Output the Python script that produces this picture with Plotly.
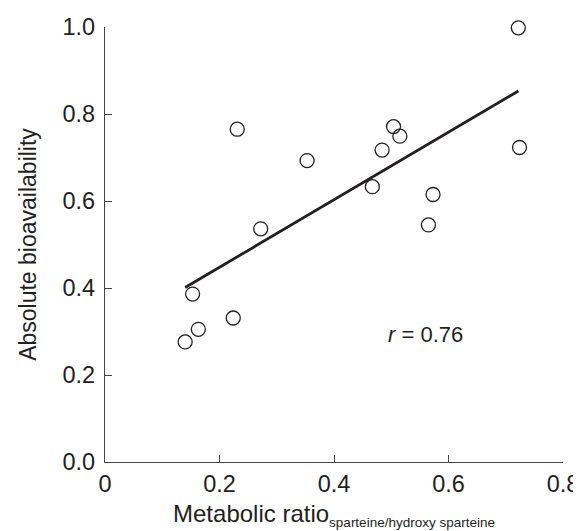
import plotly.graph_objects as go

# metabolic ratio vs absolute bioavailability
ratio = [0.722, 0.231, 0.353, 0.504, 0.515, 0.484, 0.724, 0.467, 0.573,
         0.565, 0.272, 0.153, 0.224, 0.163, 0.140]
bioavail = [0.998, 0.765, 0.693, 0.771, 0.749, 0.717, 0.723, 0.633, 0.615,
            0.545, 0.536, 0.386, 0.331, 0.305, 0.276]

fit_x = [0.140, 0.722]
fit_y = [0.401, 0.853]

x_ticks = [0, 0.2, 0.4, 0.6, 0.8]
x_labels = ["0", "0.2", "0.4", "0.6", "0.8"]
y_ticks = [0, 0.2, 0.4, 0.6, 0.8, 1.0]
y_labels = ["0.0", "0.2", "0.4", "0.6", "0.8", "1.0"]

ink = "#231f20"
font = "Liberation Sans, Arial, sans-serif"

fig = go.Figure()
fig.add_trace(go.Scatter(
    x=fit_x, y=fit_y, mode="lines",
    line=dict(color=ink, width=2.8),
    cliponaxis=False, showlegend=False))
fig.add_trace(go.Scatter(
    x=ratio, y=bioavail, mode="markers",
    marker=dict(symbol="circle-open", size=14, color=ink, line=dict(width=1.3)),
    cliponaxis=False, showlegend=False))

fig.add_annotation(
    x=0.559, y=0.292, xref="x", yref="y",
    text="<i>r</i> = 0.76", showarrow=False,
    font=dict(size=22, color=ink, family=font))

axis_common = dict(
    showgrid=False, zeroline=False, showline=True, automargin=False,
    linecolor="#444444", linewidth=1.3,
    ticks="inside", ticklen=7, tickwidth=1.2, tickcolor="#444444",
    tickfont=dict(size=23.5, color=ink, family=font),
)

fig.update_xaxes(
    range=[0, 0.8], tickvals=x_ticks, ticktext=x_labels,
    ticklabelstandoff=1,
    title=dict(text="Metabolic ratio<sub><span style='font-size:13.5px'>"
                    "sparteine/hydroxy sparteine</span></sub>",
               font=dict(size=24, color=ink, family=font), standoff=8),
    **axis_common)
fig.update_yaxes(
    range=[0, 1.0], tickvals=y_ticks, ticktext=y_labels,
    ticklabelstandoff=4,
    title=dict(text="Absolute bioavailability",
               font=dict(size=23, color=ink, family=font), standoff=19),
    **axis_common)

# page body adds an 8px offset, so the figure is sized to fit the window
fig.update_layout(
    width=573, height=523,
    margin=dict(l=97, r=18, t=19, b=69),
    plot_bgcolor="white", paper_bgcolor="white",
    font=dict(family=font, color=ink),
)

fig.write_html("out.html")
